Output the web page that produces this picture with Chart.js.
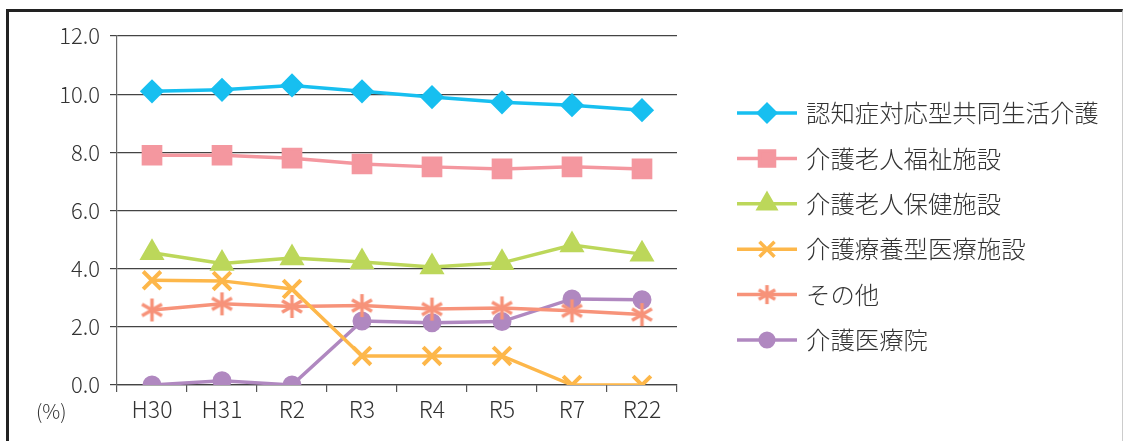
<!DOCTYPE html>
<html>
<head>
<meta charset="utf-8">
<script src="https://cdn.jsdelivr.net/npm/chart.js@4/dist/chart.umd.min.js"></script>
<style>
  body { margin: 0; background: #fff; }
  #wrap { position: relative; width: 1125px; height: 441px; }
  #frame {
    position: absolute; left: 6px; top: 9px; width: 1113px; height: 440px;
    border-top: 3px solid #222; border-left: 3px solid #222; border-right: 1px solid #ccc;
    pointer-events: none;
  }
</style>
</head>
<body>
<div id="wrap">
  <canvas id="kaigoChart" width="1125" height="441"></canvas>
  <div id="frame"></div>
</div>
<script>
const categories = ['H30', 'H31', 'R2', 'R3', 'R4', 'R5', 'R7', 'R22'];
const yTicks = [0, 2, 4, 6, 8, 10, 12];

const seriesNames = [
    '認知症対応型共同生活介護',
    '介護老人福祉施設',
    '介護老人保健施設',
    '介護療養型医療施設',
    'その他',
    '介護医療院'
];
const groupHome = [10.1, 10.15, 10.3, 10.1, 9.9, 9.72, 9.62, 9.45];
const tokuyou = [7.9, 7.9, 7.8, 7.6, 7.5, 7.43, 7.5, 7.43];
const rouken = [4.55, 4.18, 4.37, 4.23, 4.06, 4.2, 4.81, 4.5];
const ryouyou = [3.6, 3.58, 3.3, 1.0, 1.0, 1.0, 0.0, 0.0];
const sonota = [2.58, 2.79, 2.7, 2.73, 2.61, 2.65, 2.55, 2.42];
const iryouin = [0.0, 0.15, 0.0, 2.2, 2.14, 2.18, 2.96, 2.93];

const colors = ['#17bff0', '#f4979f', '#bcd75a', '#fdb74a', '#f7937a', '#b088c0'];

// 6本腕のアスタリスク
function makeAsterisk(color, size, lw) {
    const c = document.createElement('canvas');
    c.width = size; c.height = size;
    const g = c.getContext('2d');
    g.strokeStyle = color;
    g.lineWidth = lw;
    g.lineCap = 'butt';
    const r = size / 2 - 1;
    for (let k = 0; k < 3; k++) {
        const a = Math.PI / 2 + k * Math.PI / 3;
        g.beginPath();
        g.moveTo(size / 2 + Math.cos(a) * r, size / 2 + Math.sin(a) * r);
        g.lineTo(size / 2 - Math.cos(a) * r, size / 2 - Math.sin(a) * r);
        g.stroke();
    }
    return c;
}
const asterisk = makeAsterisk(colors[4], 25, 3.5);
const asteriskSmall = makeAsterisk(colors[4], 21, 3.5);

const values = [groupHome, tokuyou, rouken, ryouyou, sonota, iryouin];
const styles = ['rectRot', 'rect', 'triangle', 'crossRot', asterisk, 'circle'];
const radii = [10, 12.5, 11.5, 12.5, 12, 8];
const pointBorders = [3, 3, 3, 4, 3, 3];

const fontFamily = '"Noto Sans CJK JP", "Noto Sans", sans-serif';

const customLegend = {
    id: 'customLegend',
    afterDraw(chart) {
        const ctx = chart.ctx;
        ctx.save();
        chart.data.datasets.forEach((ds, i) => {
            const y = 113 + i * 45.4;
            ctx.strokeStyle = ds.borderColor;
            ctx.lineWidth = 3.5;
            ctx.beginPath();
            ctx.moveTo(737, y);
            ctx.lineTo(797, y);
            ctx.stroke();
            ctx.fillStyle = ds.borderColor;
            ctx.strokeStyle = ds.borderColor;
            const style = i === 4 ? asteriskSmall : ds.pointStyle;
            Chart.helpers.drawPoint(ctx, {
                pointStyle: style,
                rotation: 0,
                radius: ds.pointRadius * 0.85,
                borderWidth: ds.pointBorderWidth
            }, 767, y);
            ctx.fillStyle = '#333';
            ctx.font = '300 24.4px ' + fontFamily;
            ctx.textBaseline = 'middle';
            ctx.textAlign = 'left';
            ctx.fillText(ds.label, 806, y);
        });
        // 単位
        ctx.fillStyle = '#333';
        ctx.font = '300 20px ' + fontFamily;
        ctx.textBaseline = 'middle';
        ctx.textAlign = 'left';
        ctx.fillText('(%)', 36, 411);
        ctx.restore();
    }
};

const ctx = document.getElementById('kaigoChart').getContext('2d');
new Chart(ctx, {
    type: 'line',
    data: {
        labels: categories,
        datasets: seriesNames.map((name, i) => ({
            label: name,
            data: values[i],
            borderColor: colors[i],
            backgroundColor: colors[i],
            pointBackgroundColor: colors[i],
            pointBorderColor: colors[i],
            pointStyle: styles[i],
            pointRadius: radii[i],
            pointBorderWidth: pointBorders[i],
            borderWidth: 3.5,
            tension: 0
        }))
    },
    options: {
        responsive: false,
        animation: false,
        devicePixelRatio: 1,
        layout: { padding: { top: 36, right: 448, left: 0, bottom: 0 } },
        plugins: {
            legend: { display: false },
            tooltip: { enabled: false }
        },
        scales: {
            x: {
                offset: true,
                grid: {
                    offset: true,
                    drawOnChartArea: false,
                    drawTicks: true,
                    tickLength: 7,
                    color: '#555',
                    lineWidth: 1.2
                },
                border: { color: '#444', width: 1.2 },
                ticks: {
                    color: '#333',
                    font: { family: fontFamily, size: 23, weight: 300 },
                    padding: 3,
                    maxRotation: 0
                },
                afterFit(scale) { scale.height = 56; }
            },
            y: {
                min: 0,
                max: 12,
                afterBuildTicks(scale) {
                    scale.ticks = yTicks.map(v => ({ value: v }));
                },
                grid: {
                    color: '#444',
                    lineWidth: 1.2,
                    tickLength: 7
                },
                border: { color: '#666', width: 1.2 },
                ticks: {
                    color: '#333',
                    font: { family: fontFamily, size: 22, weight: 300 },
                    padding: 10,
                    callback: v => v.toFixed(1)
                },
                afterFit(scale) { scale.width = 117; }
            }
        }
    },
    plugins: [customLegend]
});
</script>
</body>
</html>
